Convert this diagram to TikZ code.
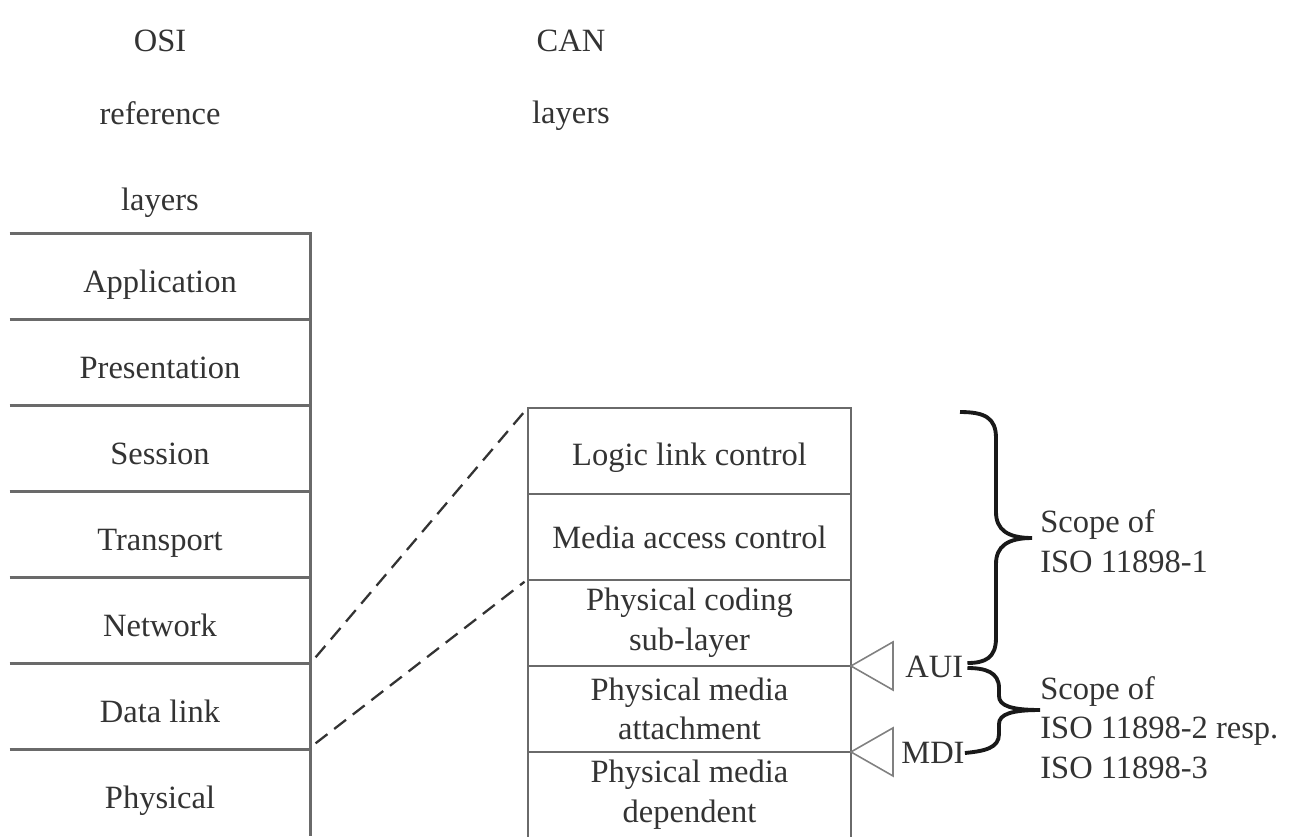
\documentclass[tikz,border=0pt]{standalone}
\usepackage{fontspec}
\setmainfont{Liberation Serif}
\usetikzlibrary{positioning}
\definecolor{inkgray}{HTML}{333333}
\definecolor{rulegray}{HTML}{6A6A6A}
\definecolor{tipgray}{HTML}{808080}
\tikzset{
  lbl/.style={text=inkgray,font=\fontsize{18.5}{22.6}\selectfont,inner sep=0pt},
  osilayer/.style={lbl,minimum width=6cm,minimum height=1.72cm,
    text height=17.8pt,text depth=0pt},
  canlayer/.style={lbl,draw=rulegray,line width=1.4pt,minimum width=6.46cm,
    minimum height=1.72cm,align=center,outer sep=0pt},
  rule/.style={draw=rulegray,line width=1.4pt},
  mapline/.style={draw=inkgray,line width=1.3pt,dash pattern=on 0.3cm off 0.17cm},
  iface/.style={draw=tipgray,line width=0.9pt},
  scopebrace/.style={draw=black!90,line width=2.2pt}
}
\begin{document}
\begin{tikzpicture}[x=0.02cm,y=-0.02cm]
\useasboundingbox (0,0) rectangle (1295,836);
\clip (0,0) rectangle (1295,836);
% headers
\node[lbl] (osihead) at (160,41) {OSI};
\node[lbl] (osiref) at (160,113) {reference};
\node[lbl] (osilay) at (160,203) {layers};
\node[lbl] (canhead) at (571,41) {CAN};
\node[lbl] (canlay) at (571,116) {layers};
% OSI stack
\foreach \lay [count=\i] in {Application,Presentation,Session,Transport,Network,Data link,Physical}
  {\node[osilayer] (osi\i) at (160,{191+86*\i}) {\lay};
   \draw[rule] (osi\i.north west) -- (osi\i.north east) -- (osi\i.south east);}
% CAN stack
\node[canlayer,text height=17pt,text depth=0pt] (can1) at (689.5,451) {Logic link control};
\node[canlayer,below=0pt of can1] (can2) {Media access control};
\node[canlayer,below=0pt of can2] (can3) {Physical coding\\sub-layer};
\node[canlayer,below=0pt of can3] (can4) {Physical media\\attachment};
\node[canlayer,below=0pt of can4] (can5) {Physical media\\dependent};
% mapping of the data link layer
\draw[mapline] ([xshift=3pt,yshift=4pt]osi5.south east) -- ([xshift=-2pt,yshift=-2pt]can1.north west);
\draw[mapline] ([xshift=3pt,yshift=4pt]osi6.south east) -- ([xshift=-2pt,yshift=-1pt]can3.north west);
% interfaces
\draw[iface] (can3.south east) -- ++(42,-24) -- ++(0,48) -- cycle;
\draw[iface] (can4.south east) -- ++(42,-24) -- ++(0,48) -- cycle;
\node[lbl,anchor=west] (aui) at (905,667) {AUI};
\node[lbl,anchor=west] (mdi) at (901,753) {MDI};
% braces
\coordinate (tip1) at (1032,538);
\coordinate (tip2) at (1040,710);
\draw[scopebrace] (aui.east) ++(4,-4) .. controls (985,663) and (996,658) .. (996,638)
  -- (996,564) .. controls (996,546) and (1008,538) .. (tip1)
  .. controls (1008,538) and (996,530) .. (996,512) -- (996,438)
  .. controls (996,418) and (985,412) .. (960,412);
\draw[scopebrace] (aui.east) ++(4,1) .. controls (985,668) and (999,672) .. (999,688)
  -- (999,696) .. controls (999,706) and (1012,710) .. (tip2)
  .. controls (1012,710) and (999,714) .. (999,724) -- (999,734)
  .. controls (999,748) and (985,751) .. (mdi.east);
\node[lbl,anchor=west,align=left] (scope1) at ([xshift=4.5pt,yshift=-2pt]tip1) {Scope of\\ISO 11898-1};
\node[lbl,anchor=west,align=left] (scope2) at ([yshift=-10pt]tip2) {Scope of\\ISO 11898-2 resp.\\ISO 11898-3};
\end{tikzpicture}
\end{document}
